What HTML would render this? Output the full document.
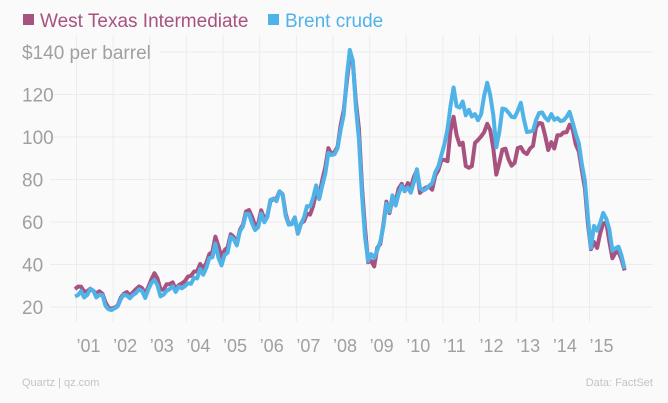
<!DOCTYPE html>
<html><head><meta charset="utf-8"><style>
html,body{margin:0;padding:0;background:#fafafa;}
svg{display:block;font-family:"Liberation Sans",sans-serif;}
</style></head><body>
<svg id="chart" width="668" height="403" viewBox="0 0 668 403">
<rect width="668" height="403" fill="#fafafa"/>
<g id="legend">
 <rect x="23" y="14" width="11" height="11" fill="#a8527f"/>
 <text x="40" y="27" font-size="19" fill="#a8527f">West Texas Intermediate</text>
 <rect x="268" y="14" width="11" height="11" fill="#4fb3e8"/>
 <text x="285" y="27" font-size="19" fill="#4fb3e8">Brent crude</text>
</g>
<g id="grid"></g>
<g id="yaxis"></g>
<g id="xaxis"></g>
<g id="series"></g>
<text x="22" y="386" font-size="11" fill="#c4c4c4">Quartz | qz.com</text>
<text x="653" y="386" font-size="11" fill="#c4c4c4" text-anchor="end">Data: FactSet</text>
</svg>
<script>
const yTicks=[20,40,60,80,100,120,140];
const yTickLabels=["20","40","60","80","100","120","$140 per barrel"];
const years=[2001,2002,2003,2004,2005,2006,2007,2008,2009,2010,2011,2012,2013,2014,2015];
const yearLabels=["’01","’02","’03","’04","’05","’06","’07","’08","’09","’10","’11","’12","’13","’14","’15"];
const startYear=2000, startMonth=12;
const wti=[28.4,
29.6,29.6,27.2,27.4,28.6,27.6,26.4,27.4,26.2,22.2,19.6,19.3,
19.7,20.7,24.4,26.2,27.0,25.5,26.9,28.4,29.7,28.9,26.3,29.4,
32.9,35.9,33.5,28.3,28.1,30.7,30.8,31.6,28.3,30.3,31.1,32.2,
34.3,34.7,36.7,36.7,40.3,38.0,40.7,44.9,46.0,53.1,48.5,43.3,
46.8,48.1,54.2,53.0,49.8,56.3,58.7,65.0,65.6,62.4,58.3,59.4,
65.5,61.6,62.9,69.7,70.9,71.0,74.4,73.1,63.9,59.0,59.4,62.0,
54.5,59.3,60.4,63.9,63.5,67.5,74.1,72.4,79.9,85.8,94.8,91.7,
93.0,95.4,105.5,112.6,125.4,138.0,135.4,116.7,104.1,76.6,57.3,41.1,
41.7,39.1,47.9,49.6,59.0,69.6,64.2,71.1,69.4,75.7,78.0,74.5,
78.3,76.4,81.2,84.3,73.7,75.3,76.3,76.6,75.2,81.9,84.3,89.2,
89.2,88.6,102.9,109.5,100.9,96.3,97.3,86.3,85.5,86.3,97.2,98.6,
100.3,102.2,106.2,103.3,94.7,82.3,87.9,94.1,94.5,89.5,86.5,87.9,
94.8,95.3,92.9,92.0,94.5,95.8,104.6,106.6,106.3,100.5,93.9,97.6,
94.6,100.8,100.8,102.1,102.2,105.8,103.6,96.5,93.2,84.4,75.8,59.3,
47.2,50.6,47.8,54.5,59.3,59.8,50.9,42.9,45.5,46.2,42.4,37.2];
const brent=[25.0,
25.6,27.5,24.5,25.7,28.4,27.7,24.5,25.7,25.6,20.5,18.9,18.6,
19.4,20.3,23.7,25.7,25.4,24.1,25.7,26.6,28.3,27.5,24.3,28.3,
31.2,32.8,30.3,25.0,25.8,27.6,28.4,29.8,27.1,29.6,28.8,29.8,
31.2,30.9,33.8,33.4,37.9,35.2,38.4,43.0,43.4,49.8,43.1,39.6,
44.5,45.5,53.1,51.9,49.0,55.6,57.9,63.8,63.7,59.4,56.2,57.6,
63.9,59.9,62.3,70.4,70.9,69.8,74.4,73.0,62.8,58.8,58.9,62.2,
54.6,59.0,62.1,67.5,67.2,71.3,77.2,70.8,77.2,82.8,92.5,91.5,
91.9,94.8,103.3,110.4,127.8,141.0,136.0,113.9,99.1,72.7,53.0,41.6,
44.9,43.1,46.8,50.8,57.9,68.6,64.9,72.5,67.7,73.2,77.0,74.7,
76.2,73.8,78.8,84.8,75.9,74.8,75.6,77.1,78.2,83.5,86.1,91.5,
96.5,103.7,114.6,123.3,114.5,113.9,116.7,110.2,112.8,109.6,110.8,107.9,
110.7,119.3,125.5,119.8,110.3,95.2,102.6,113.4,113.0,111.5,109.5,109.2,
112.3,116.1,108.5,102.3,102.6,102.9,107.9,111.3,111.6,109.1,107.8,110.8,
108.1,108.9,107.5,107.8,109.5,111.8,106.8,101.6,97.1,87.4,79.4,62.3,
47.8,58.1,55.9,59.5,64.3,61.5,56.6,46.5,47.6,48.4,44.3,38.0];

const NS="http://www.w3.org/2000/svg";
function xScale(t){return 76.5+(t-2001)*36.64;}
function yScale(v){return 307-(v-20)*42.5/20;}
function mk(tag,attrs,parent){const e=document.createElementNS(NS,tag);for(const k in attrs)e.setAttribute(k,attrs[k]);parent.appendChild(e);return e;}
const grid=document.getElementById('grid'),yaxis=document.getElementById('yaxis'),xaxis=document.getElementById('xaxis'),series=document.getElementById('series');
years.forEach((yr,i)=>{
 const x=xScale(yr);
 const l=mk('line',{x1:x,x2:x,y1:35,y2:322,stroke:'#ececec','stroke-width':1},grid);
 
 
 const t=mk('text',{x:x,y:352,'font-size':18,fill:'#a0a0a0'},xaxis);
 t.textContent=yearLabels[i];
 
 
});
yTicks.forEach((v,i)=>{
 const y=yScale(v);
 const last=i===yTicks.length-1;
 const l=mk('line',{x1:last?160:50,x2:653,y1:y,y2:y,stroke:'#ececec','stroke-width':1},grid);
 
 
 const t=mk('text',{x:22,y:y+7,'font-size':19,fill:'#a0a0a0'},yaxis);
 t.textContent=yTickLabels[i];
 
 
});
function pathFor(arr){
 return arr.map((v,i)=>{const t=startYear+(startMonth-1+i+0.5)/12;return (i?'L':'M')+xScale(t).toFixed(1)+','+yScale(v).toFixed(1);}).join('');
}
const p1=mk('path',{d:pathFor(wti),fill:'none',stroke:'#a8527f','stroke-width':4,'stroke-linejoin':'round'},series);


const p2=mk('path',{d:pathFor(brent),fill:'none',stroke:'#4fb3e8','stroke-width':4,'stroke-linejoin':'round'},series);


</script>
</body></html>
